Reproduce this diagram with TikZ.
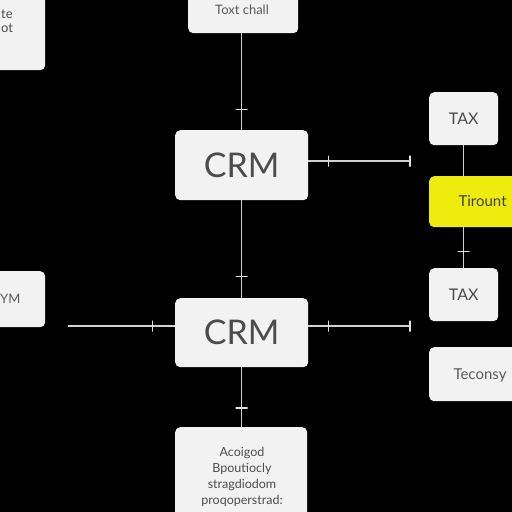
\documentclass[tikz,border=0pt]{standalone}
\usepackage{fontspec}
\setmainfont{Lato}
\begin{document}
\begin{tikzpicture}[x=1pt,y=-1pt,
  box/.style={draw=none,fill=white!95!black,rounded corners=5pt,inner sep=0pt,text=black!70},
  ybox/.style={box,fill={rgb,255:red,238;green,236;blue,12},text=black!75},
  conn/.style={draw=black!18,line width=1.1pt},
  htick/.style={draw=black!12,line width=1.4pt,inner sep=0pt,minimum width=12pt,minimum height=0pt,shape=rectangle},
  vtick/.style={draw=black!12,line width=1.4pt,inner sep=0pt,minimum width=0pt,minimum height=11pt,shape=rectangle}]
\fill[black] (0,0) rectangle (512,512);
\useasboundingbox (0,0) rectangle (512,512);
\clip (0,0) rectangle (512,512);
% boxes
\node[box,minimum width=55pt,minimum height=80pt,anchor=north west,align=left] (tl) at (-10,-10) {};
\node[text=black!70,font=\fontsize{13}{14}\selectfont,anchor=west,align=left,inner sep=0pt] (tlt) at (1,21) {te\\ot};
\node[box,minimum width=110pt,minimum height=40pt,anchor=north west] (top) at (188,-7) {};
\node[text=black!65,font=\fontsize{13}{15}\selectfont] (toptext) at (242,10) {Toxt chall};
\node[box,minimum width=133pt,minimum height=70pt,anchor=north west,font=\fontsize{34}{40}\selectfont] (crm1) at (175,130) {CRM};
\node[box,minimum width=133pt,minimum height=69pt,anchor=north west,font=\fontsize{34}{40}\selectfont] (crm2) at (175,298) {CRM};
\node[box,minimum width=132pt,minimum height=100pt,anchor=north west] (bot) at (175,427) {};
\node[text=black!70,font=\fontsize{12.5}{16}\selectfont,align=center,anchor=north] (bott) at (242,444) {Acoigod\\Bpoutiocly\\stragdiodom\\proqoperstrad:};
\node[box,minimum width=56pt,minimum height=56pt,anchor=north west] (ym) at (-11,271) {};
\node[text=black!65,font=\fontsize{13}{15}\selectfont,anchor=west,inner sep=0pt] (ymt) at (0,299) {YM};
\node[box,minimum width=69pt,minimum height=53pt,anchor=north west,font=\fontsize{16}{18}\selectfont] (tax1) at (429,92) {TAX};
\node[ybox,minimum width=100pt,minimum height=51pt,anchor=north west] (yel) at (429,176) {};
\node[text=black!75,font=\fontsize{15}{17}\selectfont,anchor=west] (yelt) at (455,201) {Tirount};
\node[box,minimum width=69pt,minimum height=53pt,anchor=north west,font=\fontsize{16}{18}\selectfont] (tax2) at (429,268) {TAX};
\node[box,minimum width=100pt,minimum height=54pt,anchor=north west] (tec) at (429,347) {};
\node[text=black!65,font=\fontsize{15}{17}\selectfont,anchor=west] (tect) at (450,375) {Teconsy};
% free ends
\coordinate (r1) at (410,161);
\coordinate (r2) at (410,326);
\coordinate (l2) at (68,326);
% connectors
\draw[conn] (top.south -| crm1.north) -- node[pos=0.79,htick]{} (crm1.north);
\draw[conn] (crm1.east |- r1) -- node[pos=0.2,vtick]{} node[pos=1,vtick]{} (r1);
\draw[conn] (crm1.south) -- node[pos=0.78,htick]{} (crm2.north);
\draw[conn] (crm2.east |- r2) -- node[pos=0.2,vtick]{} node[pos=1,vtick]{} (r2);
\draw[conn] (l2) -- node[pos=0.79,vtick]{} (crm2.west |- l2);
\draw[conn] (crm2.south) -- node[pos=0.68,htick]{} (bot.north -| crm2.south);
\draw[conn] (tax1.south) -- (tax1.south |- yel.north);
\draw[conn] (tax1.south |- yel.south) -- node[pos=0.6,htick]{} (tax2.north);
\end{tikzpicture}
\end{document}
